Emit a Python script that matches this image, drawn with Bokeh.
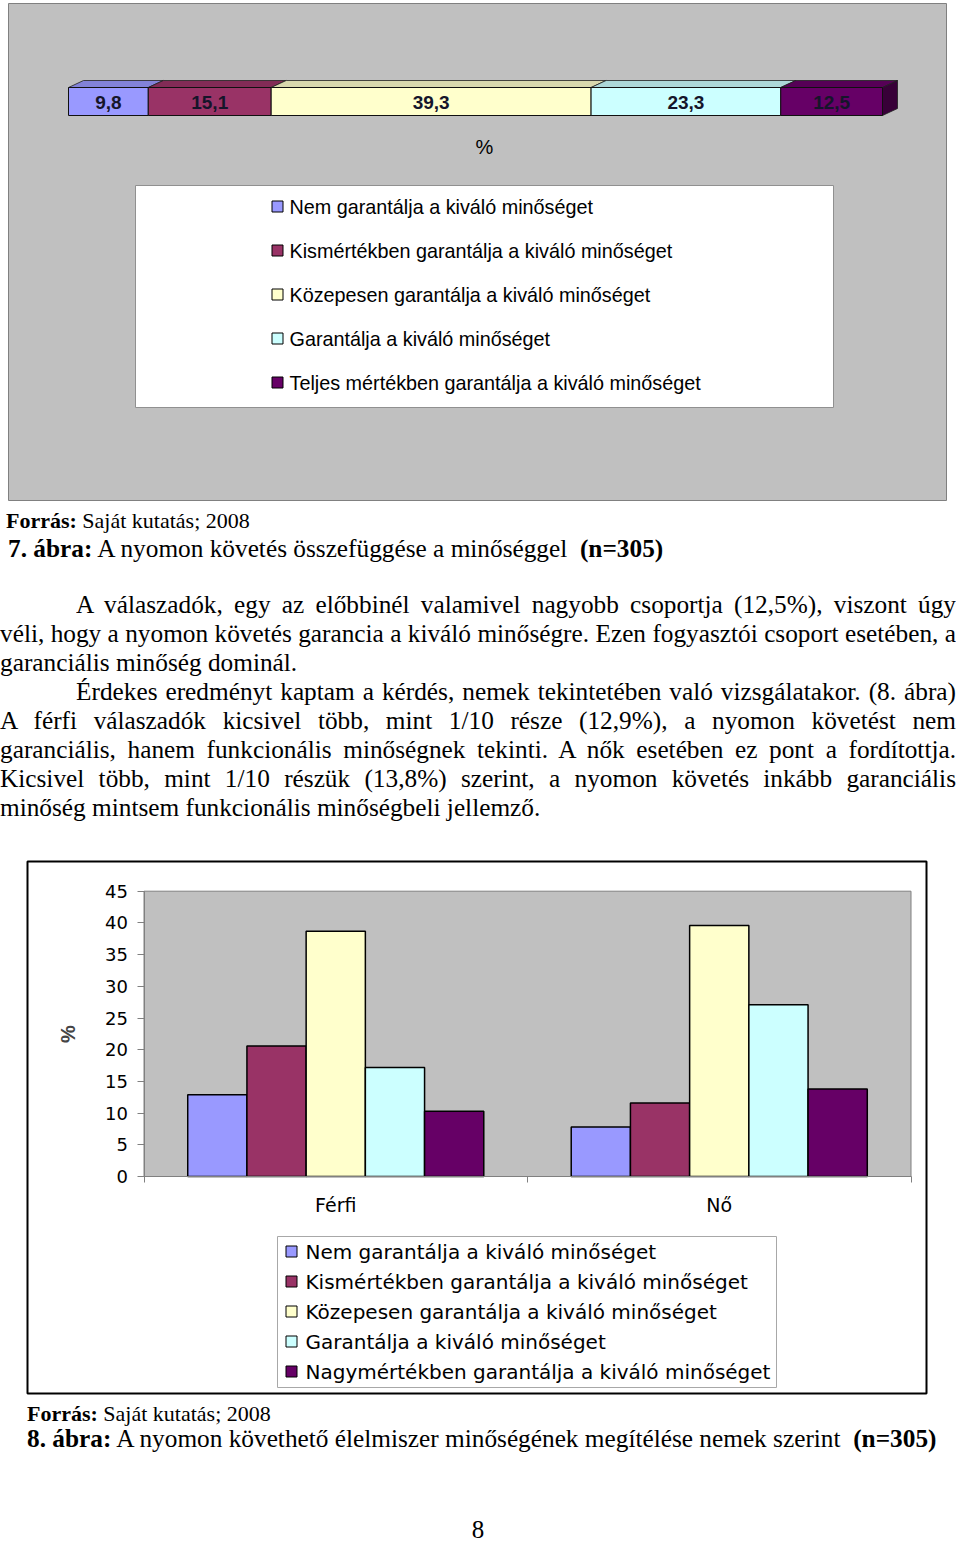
import numpy as np
from bokeh.plotting import figure
from bokeh.models import (Range1d, LinearAxis, FixedTicker, CustomJSTickFormatter, Div)
from bokeh.layouts import column
from bokeh.core.properties import value
from bokeh.embed import file_html
from bokeh.resources import INLINE

# ---------------- data ----------------
legend_top = ["Nem garantálja a kiváló minőséget",
              "Kismértékben garantálja a kiváló minőséget",
              "Közepesen garantálja a kiváló minőséget",
              "Garantálja a kiváló minőséget",
              "Teljes mértékben garantálja a kiváló minőséget"]
overall = [9.8, 15.1, 39.3, 23.3, 12.5]
overall_labels = ["9,8", "15,1", "39,3", "23,3", "12,5"]

legend_bottom = ["Nem garantálja a kiváló minőséget",
                 "Kismértékben garantálja a kiváló minőséget",
                 "Közepesen garantálja a kiváló minőséget",
                 "Garantálja a kiváló minőséget",
                 "Nagymértékben garantálja a kiváló minőséget"]
groups = ["Férfi", "Nő"]
ferfi = [12.9, 20.6, 38.7, 17.2, 10.3]
no = [7.8, 11.6, 39.6, 27.1, 13.8]
y_ticks = [0, 5, 10, 15, 20, 25, 30, 35, 40, 45]

colors = ["#9999FF", "#993366", "#FFFFCC", "#CCFFFF", "#660066"]

SANS = "Liberation Sans"
W = 960


def shade(c, f):
    r, g, b = int(c[1:3], 16), int(c[3:5], 16), int(c[5:7], 16)
    return "#%02x%02x%02x" % (int(r * f), int(g * f), int(b * f))


def page_fig(h):
    p = figure(width=W, height=h, x_range=Range1d(0, W), y_range=Range1d(h, 0),
               output_backend="svg", toolbar_location=None,
               x_axis_location=None, y_axis_location=None, title=None,
               min_border_left=0, min_border_right=0, min_border_top=0, min_border_bottom=0)
    p.outline_line_color = None
    p.background_fill_color = "white"
    p.border_fill_color = "white"
    p.grid.visible = False
    p.xgrid.visible = False
    p.ygrid.visible = False
    return p


# ---------------- figure 7 (stacked 3D-like bar) ----------------
H1 = 505
p1 = page_fig(H1)
p1.quad(left=8, right=946, top=3, bottom=500, fill_color="#C0C0C0", line_color="#808080")

BAR_L, BAR_R = 68, 882
s = (BAR_R - BAR_L) / 100.0
p1.extra_x_ranges = {"pct": Range1d(-BAR_L / s, (W - BAR_L) / s)}
vals = np.array(overall)
rights = np.cumsum(vals)
lefts = rights - vals
FT, FB = 87, 115
DX, DY = 15 / s, 7

top_xs = [[l, r, r + DX, l + DX] for l, r in zip(lefts, rights)]
top_ys = [[FT, FT, FT - DY, FT - DY] for _ in overall]
p1.patches(xs=top_xs, ys=top_ys, x_range_name="pct",
           fill_color=[shade(c, 0.85) for c in colors], line_color="#202020", line_width=0.8)
end = rights[-1]
p1.patch(x=[end, end + DX, end + DX, end], y=[FT, FT - DY, FB - DY, FB], x_range_name="pct",
         fill_color=shade(colors[-1], 0.55), line_color="#202020", line_width=0.8)
p1.quad(left=lefts, right=rights, top=FT, bottom=FB, x_range_name="pct",
        fill_color=colors, line_color="#101010", line_width=1)
p1.text(x=(lefts + rights) / 2, y=(FT + FB) / 2 + 1, text=overall_labels, x_range_name="pct",
        text_align="center", text_baseline="middle", text_font=value(SANS),
        text_font_style="bold", text_font_size="19px", text_color="#15152a")
p1.text(x=[484], y=[146], text=["%"], text_align="center", text_baseline="middle",
        text_font=value(SANS), text_font_size="20px", text_color="black")

# legend of figure 7
p1.quad(left=135, right=833, top=185, bottom=407, fill_color="white", line_color="#909090")
leg_y = 206 + 44 * np.arange(len(legend_top))
p1.rect(x=277, y=leg_y, width=11, height=11, fill_color=colors, line_color="black")
p1.text(x=289, y=leg_y, text=legend_top, text_baseline="middle", text_font=value(SANS),
        text_font_size="19.8px", text_color="black")

# ---------------- texts between the charts ----------------
SERIF = "font-family:'Liberation Serif','Times New Roman',serif;color:#000;"


def tline(top, left, html, size, lh, justify=False, right=956):
    st = (f"position:absolute;top:{top}px;left:{left}px;width:{right - left}px;"
          f"font-size:{size}px;line-height:{lh}px;height:{lh}px;margin:0;padding:0;")
    if justify:
        st += "text-align:justify;text-align-last:justify;overflow:hidden;"
    else:
        st += "text-align:left;white-space:nowrap;"
    return f'<div style="{st}">{html}</div>'


body = [
    (76, True, "A válaszadók, egy az előbbinél valamivel nagyobb csoportja (12,5%), viszont úgy"),
    (0, True, "véli, hogy a nyomon követés garancia a kiváló minőségre. Ezen fogyasztói csoport esetében, a"),
    (0, False, "garanciális minőség dominál."),
    (76, True, "Érdekes eredményt kaptam a kérdés, nemek tekintetében való vizsgálatakor. (8. ábra)"),
    (0, True, "A férfi válaszadók kicsivel több, mint 1/10 része (12,9%), a nyomon követést nem"),
    (0, True, "garanciális, hanem funkcionális minőségnek tekinti. A nők esetében ez pont a fordítottja."),
    (0, True, "Kicsivel több, mint 1/10 részük (13,8%) szerint, a nyomon követés inkább garanciális"),
    (0, False, "minőség mintsem funkcionális minőségbeli jellemző."),
]

H_D1 = 335
parts = [tline(3, 6, "<b>Forrás:</b> Saját kutatás; 2008", 22, 25),
         tline(29, 8, "<b>7. ábra:</b> A nyomon követés összefüggése a minőséggel&nbsp; <b>(n=305)</b>", 25.3, 29)]
for i, (ind, just, txt) in enumerate(body):
    parts.append(tline(85 + 29 * i, ind, txt, 25.3, 29, justify=just))
div1 = Div(text=f'<div style="position:relative;width:{W}px;height:{H_D1}px;{SERIF}">' + "".join(parts) + "</div>",
           width=W, height=H_D1, margin=(0, 0, 0, 0))

# ---------------- figure 8 (grouped bars) ----------------
H2 = 560
OFF = 840
p2 = page_fig(H2)
p2.quad(left=27, right=926, top=861 - OFF, bottom=1393 - OFF, fill_color="white",
        line_color="black", line_width=2)

PL, PR = 143.5, 910.5
Y0, Y45 = 1176 - OFF, 890.7 - OFF
ymax = max(y_ticks)
k = (Y0 - Y45) / ymax
p2.extra_y_ranges = {"val": Range1d((Y0 - H2) / k, Y0 / k)}
gw = (PR - PL) / len(groups)
p2.extra_x_ranges = {"grp": Range1d(-PL / gw, (W - PL) / gw)}

p2.quad(left=0, right=len(groups), bottom=0, top=ymax, x_range_name="grp", y_range_name="val",
        fill_color="#C0C0C0", line_color="#808080", line_width=1)

bw = 0.772 / len(colors)
series = [[ferfi[j], no[j]] for j in range(len(colors))]
for j, c in enumerate(colors):
    xs = [g + 0.5 + (j - 2) * bw for g in range(len(groups))]
    p2.vbar(x=xs, top=series[j], bottom=0, width=bw, x_range_name="grp", y_range_name="val",
            fill_color=c, line_color="black", line_width=1.5)

yax = LinearAxis(y_range_name="val", fixed_location=PL, ticker=FixedTicker(ticks=y_ticks),
                 bounds=(0, ymax))
yax.axis_line_color = "#808080"
yax.major_tick_line_color = "#808080"
yax.minor_tick_line_color = None
yax.major_tick_out = 7
yax.major_tick_in = 0
yax.major_label_standoff = 9
yax.major_label_text_font = "DejaVu Sans"
yax.major_label_text_font_size = "18px"
yax.major_label_text_color = "black"
yax.axis_label = "%"
yax.axis_label_text_font = SANS
yax.axis_label_text_font_style = "bold"
yax.axis_label_text_font_size = "20px"
yax.axis_label_standoff = 24
p2.add_layout(yax, "left")

xax = LinearAxis(x_range_name="grp", fixed_location=Y0, ticker=FixedTicker(ticks=list(range(len(groups) + 1))),
                 bounds=(0, len(groups)), formatter=CustomJSTickFormatter(code="return ''"))
xax.axis_line_color = "#808080"
xax.major_tick_line_color = "#808080"
xax.minor_tick_line_color = None
xax.major_tick_out = 6
xax.major_tick_in = 0
p2.add_layout(xax, "below")

cax = LinearAxis(x_range_name="grp", fixed_location=Y0,
                 ticker=FixedTicker(ticks=[g + 0.5 for g in range(len(groups))]),
                 bounds=(0, len(groups)),
                 formatter=CustomJSTickFormatter(args=dict(labels=groups),
                                                 code="return labels[Math.floor(tick)]"))
cax.axis_line_color = None
cax.major_tick_line_color = None
cax.minor_tick_line_color = None
cax.major_tick_out = 0
cax.major_tick_in = 0
cax.major_label_standoff = 17
cax.major_label_text_font = "DejaVu Sans"
cax.major_label_text_font_size = "19px"
cax.major_label_text_color = "black"
p2.add_layout(cax, "below")

# legend of figure 8
p2.quad(left=277, right=776, top=1236 - OFF, bottom=1387 - OFF, fill_color="white", line_color="#A8A8A8")
leg2_y = 1251 - OFF + 30 * np.arange(len(legend_bottom))
p2.rect(x=291, y=leg2_y, width=11, height=11, fill_color=colors, line_color="black")
p2.text(x=305, y=leg2_y, text=legend_bottom, text_baseline="middle", text_font=value("DejaVu Sans"),
        text_font_size="20px", text_color="black")

# ---------------- bottom texts ----------------
H_D2 = 1543 - 1400
parts2 = [tline(1, 27, "<b>Forrás:</b> Saját kutatás; 2008", 22, 25),
          tline(24, 27, "<b>8. ábra:</b> A nyomon követhető élelmiszer minőségének megítélése nemek szerint&nbsp; <b>(n=305)</b>", 25.3, 29),
          f'<div style="position:absolute;top:117px;left:0;width:956px;text-align:center;font-size:25px;line-height:25px;">8</div>']
div2 = Div(text=f'<div style="position:relative;width:{W}px;height:{H_D2}px;{SERIF}">' + "".join(parts2) + "</div>",
           width=W, height=H_D2, margin=(0, 0, 0, 0))

layout = column(p1, div1, p2, div2, spacing=0)
open("out.html", "w").write(file_html(layout, INLINE))
